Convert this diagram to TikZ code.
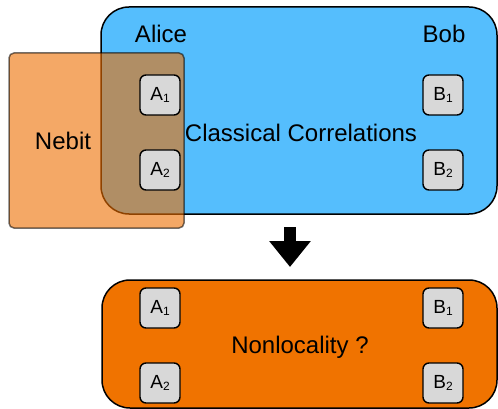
\documentclass[tikz,border=0pt]{standalone}
\usepackage{fontspec}
\setmainfont{Liberation Sans}
\usetikzlibrary{arrows.meta}
\definecolor{skyblue}{HTML}{55BEFD}
\definecolor{deeporange}{HTML}{F07300}
\definecolor{nebitorange}{HTML}{ED6E00}
\definecolor{boxgray}{HTML}{D8D8D8}
\newcommand{\lbl}[2]{#1\raisebox{-1.5pt}{\fontsize{12}{12}\selectfont #2}}
\begin{document}
\begin{tikzpicture}[x=1pt,y=-1pt,
  bigtext/.style={font=\fontsize{24}{28}\selectfont, inner sep=0pt},
  party/.style={draw=black, line width=1.4pt, fill=boxgray, rounded corners=6pt,
    minimum width=40pt, minimum height=40pt, inner sep=0pt,
    font=\fontsize{19}{22}\selectfont},
  bigbox/.style={draw=black, line width=1.5pt, rounded corners=28pt, inner sep=0pt}]
\useasboundingbox (0,0) rectangle (498,409);
% classical box
\node[bigbox, fill=skyblue, minimum width=396pt, minimum height=207pt] (classical) at (299,110.5) {};
% nebit
\node[draw=black, draw opacity=0.55, line width=1.5pt, fill=nebitorange, fill opacity=0.6,
  rounded corners=5pt, minimum width=175pt, minimum height=175pt, inner sep=0pt] (nebitbox) at (96.5,140.5) {};
\node[bigtext] (nebit) at (63,141) {Nebit};
\node[bigtext] (alice) at (161,34) {Alice};
\node[bigtext] (bob) at (444,34) {Bob};
\node[bigtext] (cc) at (301,133) {Classical Correlations};
\node[party] (a1) at (160,95) {\lbl{A}{1}};
\node[party] (a2) at (160,170) {\lbl{A}{2}};
\node[party] (b1) at (443,95) {\lbl{B}{1}};
\node[party] (b2) at (443,170) {\lbl{B}{2}};
% arrow
\coordinate (arrS) at (290,227);
\coordinate (arrE) at (290,267);
\draw[line width=12pt, -{Triangle[width=40pt,length=26pt]}] (arrS) -- (arrE);
% nonlocality box
\node[bigbox, fill=deeporange, minimum width=395pt, minimum height=128pt] (nonloc) at (299.5,344) {};
\node[bigtext] (nl) at (300,347) {Nonlocality ?};
\node[party] (na1) at (160,308) {\lbl{A}{1}};
\node[party] (na2) at (160,383) {\lbl{A}{2}};
\node[party] (nb1) at (443,308) {\lbl{B}{1}};
\node[party] (nb2) at (443,383) {\lbl{B}{2}};
\end{tikzpicture}
\end{document}
